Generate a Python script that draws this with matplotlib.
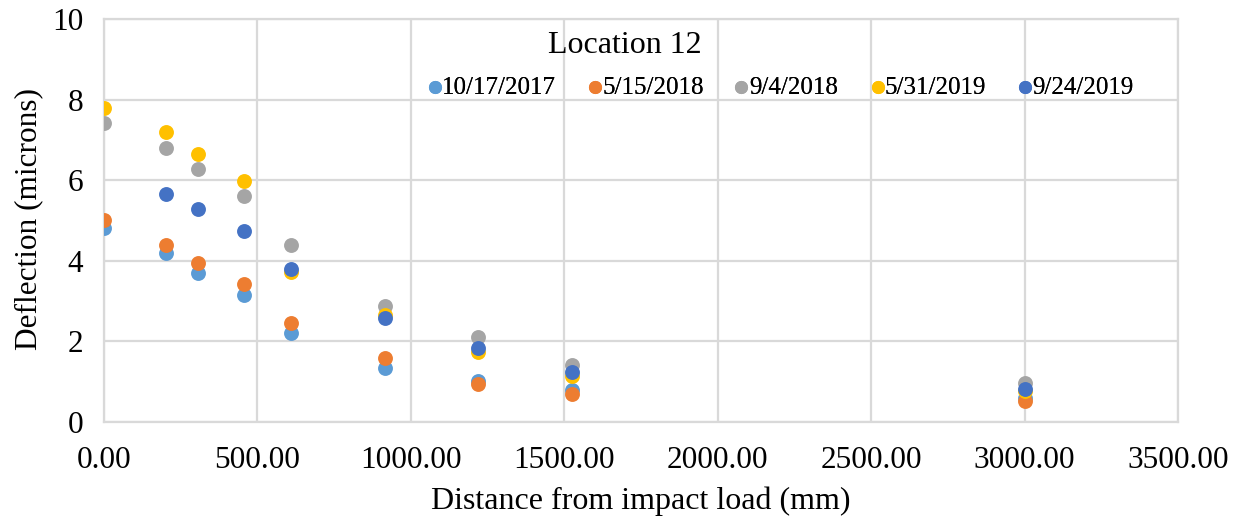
import matplotlib
matplotlib.use("Agg")
import matplotlib.pyplot as plt
from matplotlib.ticker import FormatStrFormatter

# Sensor offsets from the impact load (mm)
distance = [0, 203, 305, 457, 610, 914, 1219, 1524, 3000]

# Deflection readings (microns) per survey date
series_labels = ["10/17/2017", "5/15/2018", "9/4/2018", "5/31/2019", "9/24/2019"]
d_2017_10_17 = [4.82, 4.20, 3.71, 3.15, 2.20, 1.33, 1.01, 0.80, 0.60]
d_2018_05_15 = [5.01, 4.38, 3.94, 3.42, 2.46, 1.58, 0.94, 0.70, 0.53]
d_2018_09_04 = [7.43, 6.80, 6.28, 5.61, 4.40, 2.87, 2.10, 1.42, 0.97]
d_2019_05_31 = [7.78, 7.19, 6.66, 5.98, 3.72, 2.65, 1.74, 1.14, 0.78]
d_2019_09_24 = [None, 5.65, 5.29, 4.74, 3.79, 2.57, 1.85, 1.25, 0.83]
series_values = [d_2017_10_17, d_2018_05_15, d_2018_09_04, d_2019_05_31, d_2019_09_24]
colors = ["#5B9BD5", "#ED7D31", "#A5A5A5", "#FFC000", "#4472C4"]

x_ticks = [0, 500, 1000, 1500, 2000, 2500, 3000, 3500]
y_ticks = [0, 2, 4, 6, 8, 10]

plt.rcParams["font.family"] = ["Liberation Serif", "DejaVu Serif"]

W = 1246
fig = plt.figure(figsize=(12.46, 5.25), dpi=100)
ax = fig.add_axes([0.0835, 0.196, 0.862, 0.768])

handles = []
for label, vals, col in zip(series_labels, series_values, colors):
    xs = [d for d, v in zip(distance, vals) if v is not None]
    ys = [v for v in vals if v is not None]
    handles.append(ax.scatter(xs, ys, s=115, color=col, label=label,
                              zorder=3, linewidths=0))

ax.set_xlim(0, 3500)
ax.set_ylim(0, 10)
ax.set_xticks(x_ticks)
ax.set_yticks(y_ticks)
ax.xaxis.set_major_formatter(FormatStrFormatter("%.2f"))
ax.grid(True, color="#d9d9d9", linewidth=1.6, zorder=0)
ax.set_axisbelow(True)
for sp in ax.spines.values():
    sp.set_color("#d9d9d9")
    sp.set_linewidth(1.6)
ax.tick_params(axis="both", length=0, labelsize=22.5, colors="black")
ax.tick_params(axis="x", pad=17.5)
ax.tick_params(axis="y", pad=15)

ax.set_xlabel("Distance from impact load (mm)", fontsize=23, va="center")
ax.xaxis.set_label_coords(0.5, -0.196)
ax.set_ylabel("Deflection (microns)", fontsize=22.5, va="center")
ax.yaxis.set_label_coords(-0.0700, 0.504)

fig.text(0.5016, 0.913, "Location 12", fontsize=23, ha="center", va="center")

# Legend row: one entry per survey date
entry_left_px = [427, 587, 734, 870, 1017]
for h, lab, xpx in zip(handles, series_labels, entry_left_px):
    leg = fig.legend([h], [lab], loc="center left",
                     bbox_to_anchor=(xpx / W, 0.833), frameon=False,
                     fontsize=18, handletextpad=0.0, markerscale=0.88,
                     scatterpoints=1, handlelength=0.6, borderpad=0,
                     borderaxespad=0)
    fig.add_artist(leg)

fig.savefig("out.png", dpi=100)
